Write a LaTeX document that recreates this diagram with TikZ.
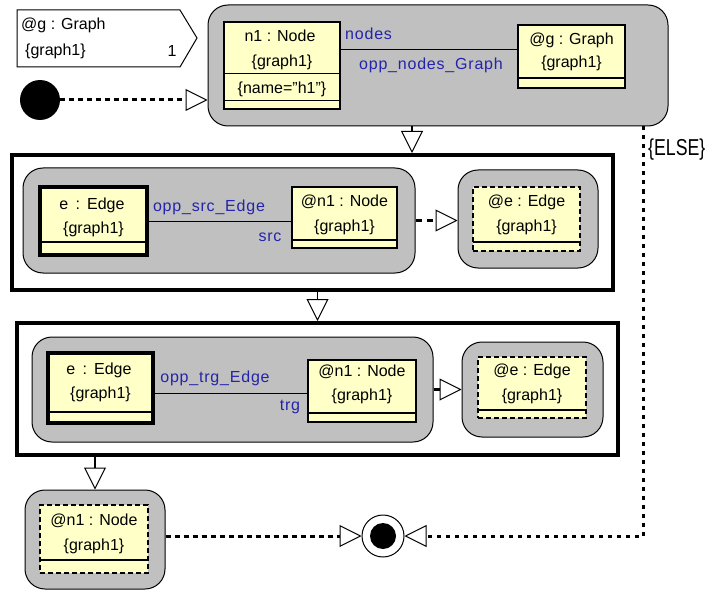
\documentclass[tikz,border=0pt]{standalone}
\usepackage{fontspec}
\usepackage{graphicx}
\setmainfont{Liberation Sans}
\newfontfamily\bluefont[LetterSpace=5]{Liberation Sans}
\usetikzlibrary{arrows.meta,calc}
\definecolor{actgray}{RGB}{192,192,192}
\definecolor{objyellow}{RGB}{255,255,200}
\definecolor{roleblue}{RGB}{36,36,170}
\newcommand{\wcln}{\hspace{0.45em}:\hspace{0.45em}}
\tikzset{
  act/.style={draw=black, line width=1pt, fill=actgray, rounded corners=20pt, inner sep=0pt, rectangle},
  obj/.style={draw=black, line width=1.5pt, fill=objyellow, inner sep=0pt, rectangle},
  objthick/.style={obj, line width=4pt},
  objdash/.style={obj, dash pattern=on 5pt off 3pt},
  frm/.style={draw=black, line width=4pt, inner sep=0pt, rectangle},
  txt/.style={font=\fontsize{16}{18}\selectfont, inner sep=0pt, text=black},
  role/.style={font=\bluefont\fontsize{16}{18}\selectfont, inner sep=0pt, text=roleblue},
  opentip/.tip={Triangle[length=22pt, width=22pt, fill=white, line width=1pt]},
  trans/.style={line width=1.5pt, -opentip},
  dotline/.style={line width=3pt, dash pattern=on 5pt off 4pt, -opentip},
  dashline/.style={line width=2.5pt, dash pattern=on 6pt off 5pt, -opentip},
  solidline/.style={line width=2.5pt, -opentip},
  link/.style={line width=1pt},
  sep/.style={line width=1pt},
  septhick/.style={line width=2pt}
}
\begin{document}
\begin{tikzpicture}[x=1pt,y=-1pt]
\useasboundingbox[fill=white] (0,0) rectangle (707,591);

% ---------- top-left label ----------
\draw[line width=1pt, fill=white] (17,10) -- (180,10) -- (197,38) -- (180,67) -- (17,67) -- cycle;
\node[txt, anchor=west] (glbl) at (21,25) {@g : Graph};
\node[txt, anchor=west] (glbl2) at (25,51) {\{graph1\}};
\node[txt] (glbl3) at (172,51) {1};

% ---------- start ----------
\node[circle, fill=black, minimum size=40pt, inner sep=0pt] (start) at (40,100) {};

% ---------- activity 1 ----------
\node[act, minimum width=460pt, minimum height=121pt] (act1) at (438,65.5) {};
\node[obj, minimum width=116pt, minimum height=87pt] (n1) at (282,65.5) {};
\draw[sep] (224,74) -- (340,74);
\draw[sep] (224,101) -- (340,101);
\node[txt] (n1t) at (280,36) {n1 : Node};
\node[txt] (n1g) at (282,62) {\{graph1\}};
\node[txt] (n1a) at (282,89) {\{name=\char"22 h1\char"22\}};
\node[obj, minimum width=107pt, minimum height=63pt] (g1) at (571.5,56.5) {};
\draw[septhick] (518,78) -- (625,78);
\node[txt] (g1t) at (571.5,40) {@g : Graph};
\node[txt] (g1g) at (571.5,63) {\{graph1\}};
\draw[link] ([yshift=15.5pt]n1.east) -- ([yshift=15.5pt]n1.east -| g1.west);
\node[role, anchor=west] (r1) at (345,34) {nodes};
\node[role] (r2) at (431,65) {opp\_nodes\_Graph};

\draw[dotline] (start) -- (start -| act1.west);

% ---------- frame 2 ----------
\node[frm, minimum width=601pt, minimum height=135pt] (frame2) at (312.5,222.5) {};
\node[act, minimum width=392pt, minimum height=105pt] (act2a) at (219,220.5) {};
\node[objthick, minimum width=107pt, minimum height=68pt] (e2) at (93.5,221) {};
\draw[septhick] (40,242) -- (147,242);
\node[txt] (e2t) at (92,205) {e\wcln Edge};
\node[txt] (e2g) at (93.5,229) {\{graph1\}};
\node[obj, minimum width=105pt, minimum height=61pt] (n2) at (344.5,217.5) {};
\draw[septhick] (292,240) -- (397,240);
\node[txt] (n2t) at (344.5,202) {@n1 : Node};
\node[txt] (n2g) at (344.5,227) {\{graph1\}};
\draw[link] (e2.east) -- (e2.east -| n2.west);
\node[role] (r3) at (209,207) {opp\_src\_Edge};
\node[role] (r4) at (270,237) {src};
\node[act, minimum width=140pt, minimum height=98pt] (act2b) at (528,219) {};
\node[objdash, minimum width=107pt, minimum height=64pt] (x2) at (526.5,219) {};
\draw[septhick] (473,242) -- (580,242);
\node[txt] (x2t) at (526.5,202) {@e : Edge};
\node[txt] (x2g) at (526.5,227) {\{graph1\}};
\draw[dashline] (act2a.east) -- (act2a.east -| act2b.west);

\draw[trans] ([xshift=-26pt]act1.south) -- ([xshift=-26pt]act1.south |- frame2.north);

% ---------- frame 3 ----------
\node[frm, minimum width=601pt, minimum height=132pt] (frame3) at (317.5,389) {};
\node[act, minimum width=401pt, minimum height=105pt] (act3a) at (232.5,389.5) {};
\node[objthick, minimum width=105pt, minimum height=70pt] (e3) at (100.5,388) {};
\draw[septhick] (48,412) -- (153,412);
\node[txt] (e3t) at (99,370) {e\wcln Edge};
\node[txt] (e3g) at (100.5,394) {\{graph1\}};
\node[obj, minimum width=108pt, minimum height=62pt] (n3) at (362,391) {};
\draw[septhick] (308,413) -- (416,413);
\node[txt] (n3t) at (362,372) {@n1 : Node};
\node[txt] (n3g) at (362,396) {\{graph1\}};
\draw[link] ([yshift=-5pt]e3.east) -- ([yshift=-5pt]e3.east -| n3.west);
\node[role] (r5) at (215,378) {opp\_trg\_Edge};
\node[role] (r6) at (290,407) {trg};
\node[act, minimum width=141pt, minimum height=95pt] (act3b) at (532.5,389.5) {};
\node[objdash, minimum width=108pt, minimum height=61pt] (x3) at (532,387.5) {};
\draw[septhick] (478,410) -- (586,410);
\node[txt] (x3t) at (532,371) {@e : Edge};
\node[txt] (x3g) at (532,396) {\{graph1\}};
\draw[solidline] (act3a.east) -- (act3a.east -| act3b.west);

\draw[trans] (frame3.north |- frame2.south) -- (frame3.north);

% ---------- activity 4 ----------
\node[act, minimum width=140pt, minimum height=99pt] (act4) at (95,539.5) {};
\node[objdash, minimum width=108pt, minimum height=68pt] (n4) at (94,539) {};
\draw[septhick] (40,560) -- (148,560);
\node[txt] (n4t) at (94,521) {@n1 : Node};
\node[txt] (n4g) at (94,546) {\{graph1\}};

\draw[trans] (act4.north |- frame3.south) -- (act4.north);

% ---------- final ----------
\node[circle, draw=black, line width=1pt, fill=white, minimum size=42pt, inner sep=0pt] (final) at (383,536) {};
\node[circle, fill=black, minimum size=26pt, inner sep=0pt] (finalin) at (final) {};

\draw[dotline] (act4.east |- final.west) -- (final.west);
\draw[dotline, dash pattern=on 4pt off 5pt] ([xshift=-25pt]act1.south east) |- (final.east);
\node[anchor=west, inner sep=0pt] (elselbl) at (648,150) {\scalebox{0.77}[1]{\fontsize{23}{25}\selectfont\{ELSE\}}};
\end{tikzpicture}
\end{document}
